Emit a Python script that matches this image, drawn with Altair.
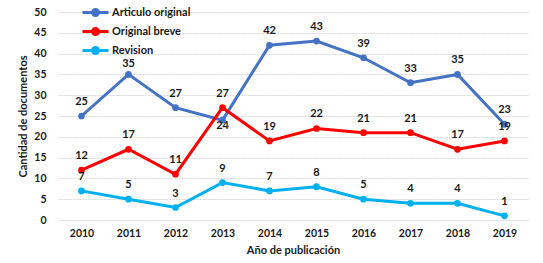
import altair as alt
import pandas as pd

years = ["2010", "2011", "2012", "2013", "2014", "2015", "2016", "2017", "2018", "2019"]
series_names = ["Articulo original", "Original breve", "Revision"]
articulo = [25, 35, 27, 24, 42, 43, 39, 33, 35, 23]
breve = [12, 17, 11, 27, 19, 22, 21, 21, 17, 19]
revision = [7, 5, 3, 9, 7, 8, 5, 4, 4, 1]
colors = ["#4472C4", "#FF0000", "#00B0F0"]
below_labels = [("Articulo original", "2013")]
close_labels = [("Articulo original", "2011")]

rows = []
for name, vals in zip(series_names, [articulo, breve, revision]):
    for yr, v in zip(years, vals):
        if (name, yr) in below_labels:
            pos = "below"
        elif (name, yr) in close_labels:
            pos = "close"
        else:
            pos = "above"
        rows.append({"year": yr, "series": name, "value": v, "pos": pos})
df = pd.DataFrame(rows)

FONT = "Lato"
TXT = "#1a1a1a"

x = alt.X("year:O", title="Año de publicación",
          scale=alt.Scale(domain=years),
          axis=alt.Axis(labelAngle=0, ticks=False, domain=False, labelPadding=8,
                        labelFont=FONT, labelFontSize=10.5, labelFontWeight="bold",
                        labelColor=TXT, titleFont=FONT, titleFontSize=11,
                        titleFontWeight="bold", titleColor=TXT, titlePadding=6,
                        grid=False))
y = alt.Y("value:Q", title="Cantidad de documentos",
          scale=alt.Scale(domain=[0, 50], nice=False),
          axis=alt.Axis(values=list(range(0, 51, 5)), ticks=False, domain=False,
                        labelPadding=12, labelFont=FONT, labelFontSize=10.5,
                        labelFontWeight="bold", labelColor=TXT,
                        titleFont=FONT, titleFontSize=11, titleFontWeight="bold",
                        titleColor=TXT, titlePadding=5,
                        gridColor="#d9d9d9", gridWidth=1, gridDash=[2, 1]))

legend_symbol = ("M-2.6,0L2.6,0M-0.6,0A0.6,0.6,0,1,0,0.6,0A0.6,0.6,0,1,0,-0.6,0")
color = alt.Color("series:N", scale=alt.Scale(domain=series_names, range=colors),
                  legend=alt.Legend(title=None, orient="none", legendX=31, legendY=-6,
                                    direction="vertical", symbolType=legend_symbol,
                                    symbolSize=100, symbolStrokeWidth=3,
                                    labelFont=FONT, labelFontSize=11,
                                    labelFontWeight="bold", labelColor=TXT,
                                    labelOffset=10, rowPadding=0))

base = alt.Chart(df)
lines = base.mark_line(strokeWidth=3,
                       point=alt.OverlayMarkDef(filled=True, size=45)).encode(
    x=x, y=y, color=color)


def labels(pos, dy):
    return base.transform_filter(f"datum.pos == '{pos}'").mark_text(
        dy=dy, font=FONT, fontSize=11, fontWeight="bold", color=TXT).encode(
        x=x, y=y, text="value:Q")


chart = alt.layer(lines, labels("above", -14), labels("close", -10),
                  labels("below", 6)).properties(
    width=470, height=208,
    autosize=alt.AutoSizeParams(type="none"),
    padding={"left": 58, "top": 12, "right": 15, "bottom": 43},
    background="white",
).configure_view(stroke=None)

chart.save("out.html", embed_options={"renderer": "svg", "actions": False})
